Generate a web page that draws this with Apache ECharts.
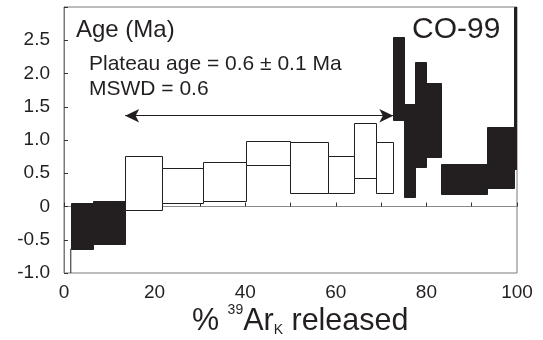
<!DOCTYPE html>
<html>
<head>
<meta charset="utf-8">
<script src="https://cdn.jsdelivr.net/npm/echarts@6/dist/echarts.min.js"></script>
<style>html,body{margin:0;padding:0;background:#fff;}#c{width:543px;height:340px;}</style>
</head>
<body>
<div id="c"></div>
<script>
// Cumulative % 39ArK released at step boundaries
var cumPct = [1.5, 6.5, 13.5, 21.6, 30.6, 40.1, 49.9, 58.2, 64.1, 68.9, 72.7, 75.1, 77.5, 79.9, 83.3, 93.4, 99.4, 100];
// Apparent age (Ma) error box, high and low
var ageHigh = [0.055, 0.085, 0.76, 0.575, 0.67, 0.985, 0.97, 0.76, 1.25, 0.965, 2.555, 1.54, 2.18, 1.855, 0.64, 1.19, 3.0];
var ageLow  = [-0.635, -0.57, -0.05, 0.05, 0.085, 0.62, 0.2, 0.2, 0.425, 0.2, 1.30, 0.15, 0.6, 0.74, 0.19, 0.28, 0.57];
// 1 = plateau step (open box), 0 = excluded step (filled)
var inPlateau = [0, 0, 1, 1, 1, 1, 1, 1, 1, 1, 0, 0, 0, 0, 0, 0, 0];
var plateauArrowAge = 1.365;
var yTicks = [-1.0, -0.5, 0, 0.5, 1.0, 1.5, 2.0, 2.5, 3.0];
var xLabelStep = 20;

var INK = '#231f20';
var FONT = '"Liberation Sans", Arial, sans-serif';

var boxes = [];
for (var i = 0; i < ageHigh.length; i++) {
  boxes.push([cumPct[i], cumPct[i + 1], ageLow[i], ageHigh[i], inPlateau[i]]);
}
var pStart = null, pEnd = null;
for (var j = 0; j < inPlateau.length; j++) {
  if (inPlateau[j]) { if (pStart === null) pStart = cumPct[j]; pEnd = cumPct[j + 1]; }
}

var chart = echarts.init(document.getElementById('c'), null, {renderer: 'canvas'});
chart.setOption({
  animation: false,
  backgroundColor: '#fff',
  grid: {left: 64, right: 26, top: 7, bottom: 67, show: true, borderColor: '#7a7a7a', borderWidth: 1, backgroundColor: 'transparent'},
  xAxis: {
    type: 'value', min: 0, max: 100, interval: 10,
    axisLine: {show: true, lineStyle: {color: '#8a8a8a', width: 1}},
    axisTick: {show: true, inside: true, length: 4, lineStyle: {color: '#333'}},
    splitLine: {show: false},
    axisLabel: {
      color: INK, fontFamily: FONT, fontSize: 19, margin: 10,
      formatter: function (v) { return v % xLabelStep === 0 ? String(v) : ''; }
    }
  },
  yAxis: {
    type: 'value', min: yTicks[0], max: yTicks[yTicks.length - 1], interval: 0.5,
    axisLine: {show: true, lineStyle: {color: '#7a7a7a', width: 1}},
    axisTick: {show: true, inside: true, length: 4, lineStyle: {color: '#333'}},
    splitLine: {show: false},
    axisLabel: {
      color: INK, fontFamily: FONT, fontSize: 19, margin: 14,
      formatter: function (v) {
        if (Math.abs(v - yTicks[yTicks.length - 1]) < 1e-9) return '';
        return v === 0 ? '0' : v.toFixed(1);
      }
    }
  },
  series: [
    {
      type: 'custom',
      clip: true,
      data: boxes,
      encode: {x: [0, 1], y: [2, 3]},
      renderItem: function (params, api) {
        var p1 = api.coord([api.value(0), api.value(3)]);
        var p2 = api.coord([api.value(1), api.value(2)]);
        var open = api.value(4) === 1;
        var x = Math.round(p1[0]) + 0.5, y = Math.round(p1[1]) + 0.5;
        var w = Math.round(p2[0]) - Math.round(p1[0]);
        var h = Math.round(p2[1]) - Math.round(p1[1]);
        return {
          type: 'rect',
          shape: {x: x, y: y, width: w, height: h},
          style: {fill: open ? '#fff' : INK, stroke: INK, lineWidth: 1}
        };
      },
      z: 3
    },
    {
      type: 'line',
      data: [[cumPct[0], yTicks[0]], [cumPct[0], ageLow[0]]],
      showSymbol: false, symbol: 'none',
      lineStyle: {color: INK, width: 1},
      z: 2
    },
    {
      type: 'line',
      data: [],
      markLine: {
        silent: true,
        symbol: ['arrow', 'arrow'],
        symbolSize: [10, 14],
        label: {show: false},
        lineStyle: {color: INK, width: 1, type: 'solid'},
        data: [[{coord: [pStart, plateauArrowAge]}, {coord: [pEnd, plateauArrowAge]}]]
      }
    }
  ],
  graphic: [
    {type: 'text', left: 76, top: 18, style: {text: 'Age (Ma)', fill: INK, font: '24px ' + FONT}},
    {type: 'text', left: 89, top: 54, style: {text: 'Plateau age = 0.6 \u00b1 0.1 Ma', fill: INK, font: '21px ' + FONT}},
    {type: 'text', left: 89, top: 79, style: {text: 'MSWD = 0.6', fill: INK, font: '21px ' + FONT}},
    {type: 'text', left: 412, top: 15, style: {text: 'CO-99', fill: INK, font: '30px ' + FONT}},
    {type: 'text', left: 192, top: 303, style: {
      text: '{a|% }{sup|39}{a|Ar}{sub|K}{a| released}',
      fill: INK,
      rich: {
        a: {fontSize: 30.5, fontFamily: FONT, color: INK, lineHeight: 36, verticalAlign: 'bottom'},
        sup: {fontSize: 14, fontFamily: FONT, color: INK, verticalAlign: 'top', padding: [2, 0, 0, 0]},
        sub: {fontSize: 14, fontFamily: FONT, color: INK, verticalAlign: 'bottom', padding: [0, 0, 0, 0]}
      }
    }}
  ]
});
</script>
</body>
</html>
